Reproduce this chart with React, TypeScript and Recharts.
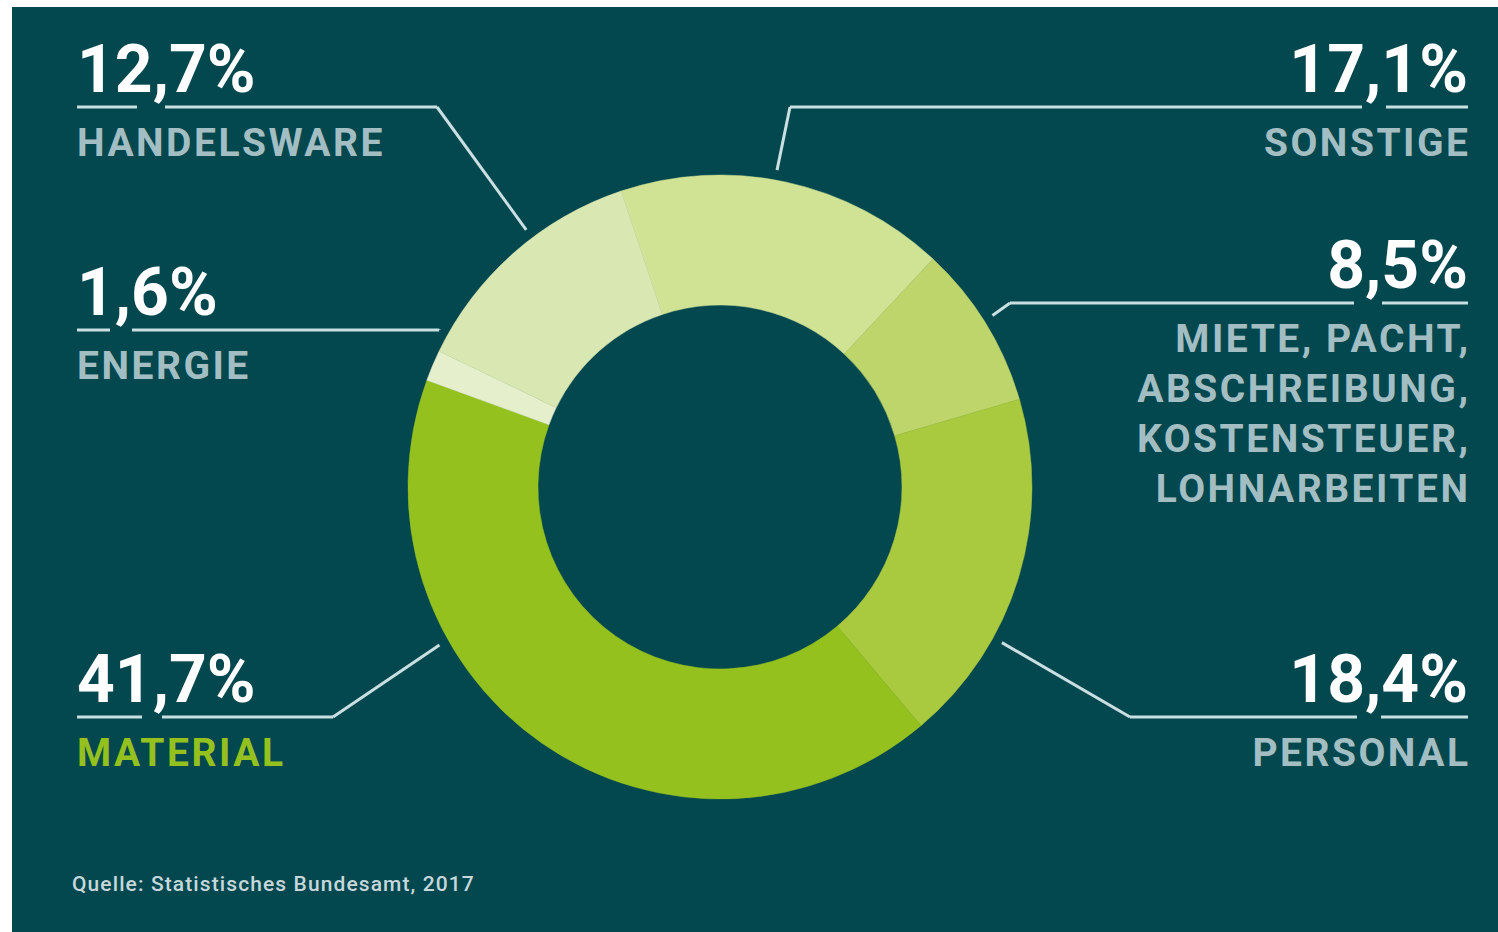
import { PieChart, Pie, Cell } from 'recharts'

const categories = ['Sonstige', 'Miete, Pacht, Abschreibung, Kostensteuer, Lohnarbeiten', 'Personal', 'Material', 'Energie', 'Handelsware']
const shares = [17.1, 8.5, 18.4, 41.7, 1.6, 12.7]
const shareLabels = ['17,1%', '8,5%', '18,4%', '41,7%', '1,6%', '12,7%']
const nameLines = [
  ['SONSTIGE'],
  ['MIETE, PACHT,', 'ABSCHREIBUNG,', 'KOSTENSTEUER,', 'LOHNARBEITEN'],
  ['PERSONAL'],
  ['MATERIAL'],
  ['ENERGIE'],
  ['HANDELSWARE'],
]
const sourceText = 'Quelle: Statistisches Bundesamt, 2017'

// farben
const BG = '#03474f'
const sliceColors = ['#d0e294', '#bdd56a', '#a9c93f', '#95c11f', '#e6efcc', '#d9e7b2']
const LINE = '#c9dfe2'
const NAME = '#a2bec2'

// beschriftungs-layout (seite, text-x, linien-y, knick, winkel am ring, lücke fürs komma)
const layout = [
  { side: 'right', x: 1468, lineY: 107, elbowX: 790, angle: 10.2, gap: [1362, 1386] },
  { side: 'right', x: 1468, lineY: 303, elbowX: 1010, angle: 57.8, gap: [1354, 1382] },
  { side: 'right', x: 1468, lineY: 717, elbowX: 1130, angle: 118.9, gap: [1357, 1381] },
  { side: 'left', x: 77, lineY: 717, elbowX: 333, angle: 240.6, gap: [142, 162] },
  { side: 'left', x: 77, lineY: 330, elbowX: null, angle: 299.3, gap: [110, 132] },
  { side: 'left', x: 77, lineY: 107, elbowX: 437, angle: 323, gap: [137, 165] },
]

const data = categories.map((name, i) => ({ name, value: shares[i] }))

const FONT = 'Roboto, "DejaVu Sans", sans-serif'
const NAME_LS = 2.5

// eslint-disable-next-line @typescript-eslint/no-explicit-any
const renderLabel = (p: any) => {
  const { cx, cy, outerRadius, index } = p
  const l = layout[index]
  const r = outerRadius + 10
  const rad = (l.angle * Math.PI) / 180
  const px = cx + r * Math.sin(rad)
  const py = cy - r * Math.cos(rad)
  const ex = l.elbowX ?? px
  const left = l.side === 'left'
  const segs = left
    ? [[l.x, l.gap[0]], [l.gap[1], ex]]
    : [[ex, l.gap[0]], [l.gap[1], l.x]]
  const anchor = left ? 'start' : 'end'
  return (
    <g key={index}>
      {segs.map((s, k) => (
        <line key={k} x1={s[0]} y1={l.lineY} x2={s[1]} y2={l.lineY} stroke={LINE} strokeWidth={3} />
      ))}
      <line x1={ex} y1={l.lineY} x2={px} y2={py} stroke={LINE} strokeWidth={3} />
      <text x={l.x} y={l.lineY - 15} textAnchor={anchor} fill="#ffffff" fontFamily={FONT} fontWeight={700} fontSize={66}>
        {shareLabels[index]}
      </text>
      {nameLines[index].map((t, k) => (
        <text
          key={'n' + k}
          x={left ? l.x : l.x + NAME_LS}
          y={l.lineY + 49 + k * 50}
          textAnchor={anchor}
          fill={index === 3 ? '#95c11f' : NAME}
          fontFamily={FONT}
          fontWeight={700}
          fontSize={39}
          letterSpacing={NAME_LS}
        >
          {t}
        </text>
      ))}
    </g>
  )
}

export default function App() {
  return (
    <div style={{ position: 'absolute', left: 0, top: 0, width: 1498, height: 932, background: '#ffffff' }}>
      <div style={{ position: 'absolute', left: 12, top: 7, width: 1486, height: 925, background: BG }} />
      <div style={{ position: 'absolute', left: 0, top: 0 }}>
        <PieChart width={1498} height={932} margin={{ top: 0, right: 0, bottom: 0, left: 0 }}>
          <Pie
            data={data}
            dataKey="value"
            nameKey="name"
            cx={720}
            cy={487}
            innerRadius={182}
            outerRadius={312}
            startAngle={108.5}
            endAngle={-251.5}
            stroke="none"
            label={renderLabel}
            labelLine={false}
            isAnimationActive={false}
          >
            {data.map((_, i) => (
              <Cell key={i} fill={sliceColors[i]} stroke={sliceColors[i]} strokeWidth={0.5} />
            ))}
          </Pie>
        </PieChart>
      </div>
      <div
        style={{
          position: 'absolute',
          left: 72,
          top: 872,
          color: '#c6d8db',
          fontFamily: FONT,
          fontWeight: 500,
          fontSize: 21,
          letterSpacing: 1.1,
          lineHeight: '24px',
          whiteSpace: 'nowrap',
        }}
      >
        {sourceText}
      </div>
    </div>
  )
}
